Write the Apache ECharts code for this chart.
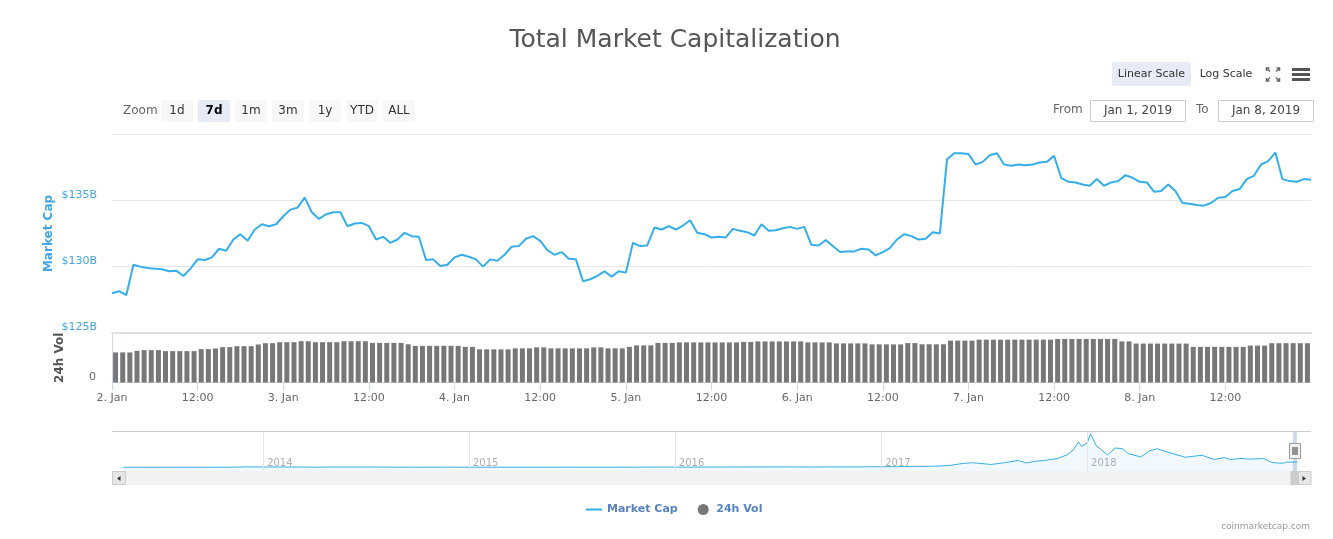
<!DOCTYPE html>
<html><head><meta charset="utf-8">
<script src="https://cdn.jsdelivr.net/npm/echarts@6/dist/echarts.min.js"></script>
<style>html,body{margin:0;padding:0;background:#fff}#c{width:1333px;height:539px}</style>
</head><body><div id="c"></div>
<script>
// ---- data (hourly from 2. Jan 2019 00:00) ----
const dayLabels = ['2. Jan','3. Jan','4. Jan','5. Jan','6. Jan','7. Jan','8. Jan','9. Jan'];
const noonLabel = '12:00';
// Total market cap, $B, hourly
const marketCap = [
128.0,128.15,127.85,130.15,130.0,129.9,129.85,129.8,129.65,129.7,
129.3,129.85,130.55,130.5,130.7,131.35,131.2,132.05,132.45,131.95,
132.8,133.2,133.05,133.2,133.8,134.3,134.45,135.2,134.1,133.6,
133.95,134.1,134.1,133.05,133.25,133.3,133.05,132.05,132.25,131.8,
132.05,132.55,132.3,132.25,130.5,130.55,130.05,130.15,130.7,130.9,
130.75,130.55,130.0,130.55,130.45,130.9,131.5,131.55,132.1,132.3,
131.95,131.25,130.9,131.1,130.6,130.55,128.9,129.05,129.3,129.65,
129.25,129.65,129.55,131.8,131.55,131.6,132.95,132.8,133.05,132.8,
133.1,133.5,132.55,132.45,132.2,132.25,132.2,132.85,132.7,132.6,
132.35,133.2,132.7,132.75,132.9,133.0,132.85,133.0,131.65,131.6,
132.0,131.55,131.1,131.15,131.15,131.35,131.3,130.85,131.1,131.4,
132.05,132.45,132.3,132.05,132.1,132.6,132.5,138.1,138.55,138.55,
138.5,137.7,137.9,138.4,138.55,137.7,137.6,137.7,137.65,137.7,
137.85,137.9,138.35,136.7,136.4,136.35,136.2,136.1,136.6,136.1,
136.35,136.45,136.9,136.7,136.4,136.35,135.65,135.7,136.2,135.7,
134.8,134.75,134.65,134.6,134.8,135.2,135.25,135.7,135.85,136.6,
136.85,137.7,137.95,138.6,136.6,136.45,136.4,136.6,136.55
];
// 24h volume, $B, hourly
const volume = [
15.2,15.2,15.2,16.0,16.35,16.35,16.35,15.85,15.85,15.85,
15.85,15.85,16.85,16.85,17.2,17.85,17.85,18.35,18.35,18.35,
19.2,19.85,19.85,20.35,20.35,20.35,20.85,20.85,20.35,20.35,
20.35,20.35,20.85,20.85,20.85,20.85,20.0,20.0,20.0,20.0,
20.0,19.3,18.5,18.5,18.5,18.5,18.5,18.5,18.5,18.0,
18.0,16.75,16.75,16.75,16.75,16.75,17.25,17.25,17.25,17.75,
17.75,17.25,17.25,17.25,17.25,17.25,17.25,17.75,17.75,17.25,
17.25,17.25,18.0,18.75,18.75,18.75,20.0,20.0,20.0,20.25,
20.25,20.25,20.25,20.25,20.25,20.25,20.25,20.25,20.5,20.5,
20.75,20.75,20.75,20.75,20.75,20.75,20.75,20.25,20.25,20.25,
20.25,19.75,19.75,19.75,19.75,19.75,19.25,19.25,19.25,19.25,
19.25,19.9,19.9,19.3,19.3,19.3,19.3,21.15,21.15,21.15,
21.15,21.65,21.65,21.65,21.65,21.65,21.65,21.65,21.65,21.65,
21.65,21.65,22.0,22.0,22.0,22.0,22.0,22.0,22.0,22.0,
22.0,20.75,20.75,19.65,19.65,19.65,19.65,19.65,19.65,19.65,
19.65,18.0,18.0,18.0,18.0,18.0,18.0,18.0,18.0,18.65,
18.65,18.65,19.85,19.85,19.85,19.85,19.85,19.85
];
// Navigator: total market cap history, $B
const navDates = ['2013-04-28','2013-07-01','2013-10-01','2013-11-15','2013-12-04','2014-01-01','2014-02-15','2014-04-01','2014-06-01','2014-08-01','2014-10-01','2014-12-01','2015-02-01','2015-05-01','2015-07-01','2015-09-01','2015-11-05','2016-01-01','2016-03-01','2016-06-17','2016-09-01','2016-12-01','2017-01-05','2017-02-01','2017-03-01','2017-04-01','2017-05-01','2017-05-25','2017-06-12','2017-07-15','2017-08-10','2017-09-01','2017-09-15','2017-10-01','2017-10-20','2017-11-10','2017-11-28','2017-12-08','2017-12-17','2017-12-22','2018-01-01','2018-01-07','2018-01-17','2018-02-06','2018-02-20','2018-03-05','2018-03-15','2018-04-06','2018-04-22','2018-05-05','2018-05-28','2018-06-24','2018-07-24','2018-08-14','2018-09-01','2018-09-12','2018-10-01','2018-10-15','2018-11-10','2018-11-25','2018-12-14','2018-12-20','2019-01-01','2019-01-09'];
const navValues = [1.5,1.0,1.7,6,14,10,8,6,8,7,5,4.5,3.5,3.5,4.5,3.8,6.5,7,7.5,12,10,12.5,17,17,24,27,45,95,115,72,120,170,110,150,175,220,320,440,630,520,600,830,540,310,480,460,340,260,410,460,360,250,300,195,240,195,220,205,215,120,100,130,130,135];
const navYears = ['2014','2015','2016','2017','2018'];
const selectedRange = ['2019-01-01','2019-01-08'];
const zoomButtons = ['1d','7d','1m','3m','1y','YTD','ALL'];
const selectedZoom = '7d';

const F = '"DejaVu Sans", sans-serif';
const LINE = '#36aeea';
const chart = echarts.init(document.getElementById('c'));

function txt(x, y, text, opt) {
  return {type:'text', x:x, y:y, z:100, silent:true,
    style:Object.assign({text:text, fontFamily:F, fontSize:12, fill:'#333', align:'left', verticalAlign:'middle'}, opt||{})};
}
function box(x, y, w, h, fill, stroke, r) {
  return {type:'rect', z:100, silent:true, shape:{x:x, y:y, width:w, height:h, r:r||0},
    style:{fill:fill, stroke:stroke||null, lineWidth:1}};
}
function pl(points, color, w) {
  return {type:'polyline', z:100, silent:true, shape:{points:points}, style:{stroke:color, lineWidth:w||1, fill:null}};
}

const g = [];
// zoom buttons
g.push(txt(123, 111, 'Zoom', {fill:'#666'}));
zoomButtons.forEach(function (b, i) {
  const x = 161 + i * 37;
  const sel = b === selectedZoom;
  g.push(box(x, 100, 32, 22, sel ? '#e6ebf5' : '#f7f7f7', null, 2));
  g.push(txt(x + 16, 111, b, {align:'center', fontWeight: sel ? 'bold' : 'normal', fill: sel ? '#000' : '#333'}));
});
// scale buttons
g.push(box(1112, 62, 79, 24, '#e6ebf5', null, 2));
g.push(txt(1151.5, 74, 'Linear Scale', {align:'center', fontSize:11}));
g.push(txt(1226, 74, 'Log Scale', {align:'center', fontSize:11}));
// fullscreen icon
g.push(pl([[1266.5,71],[1266.5,68],[1269.5,68]], '#666', 1.5));
g.push(pl([[1266.5,68],[1270,71.5]], '#666', 1.5));
g.push(pl([[1276.5,68],[1279.5,68],[1279.5,71]], '#666', 1.5));
g.push(pl([[1279.5,68],[1276,71.5]], '#666', 1.5));
g.push(pl([[1266.5,78],[1266.5,81],[1269.5,81]], '#666', 1.5));
g.push(pl([[1266.5,81],[1270,77.5]], '#666', 1.5));
g.push(pl([[1276.5,81],[1279.5,81],[1279.5,78]], '#666', 1.5));
g.push(pl([[1279.5,81],[1276,77.5]], '#666', 1.5));
// hamburger
g.push(box(1292, 68, 18, 3, '#555'));
g.push(box(1292, 73, 18, 3, '#555'));
g.push(box(1292, 78, 18, 3, '#555'));
// date inputs
g.push(txt(1053, 110, 'From', {fill:'#666'}));
g.push(box(1090.5, 100.5, 95, 21, '#fff', '#ccc'));
g.push(txt(1138, 111, 'Jan 1, 2019', {align:'center', fill:'#444'}));
g.push(txt(1196, 110, 'To', {fill:'#666'}));
g.push(box(1218.5, 100.5, 95, 21, '#fff', '#ccc'));
g.push(txt(1266, 111, 'Jan 8, 2019', {align:'center', fill:'#444'}));
// navigator frame + scrollbar
g.push(pl([[112,431.5],[1311,431.5]], '#cccccc', 1));
g.push(box(112, 471, 1199, 14, '#f2f2f2'));
g.push(box(112.5, 471.5, 13, 13, '#e6e6e6', '#cccccc'));
g.push({type:'polygon', z:100, silent:true, shape:{points:[[120.5,476],[120.5,481],[117,478.5]]}, style:{fill:'#333'}});
g.push(box(1290.5, 471, 8, 14, '#cccccc'));
g.push(box(1298.5, 471.5, 12.5, 13, '#e6e6e6', '#cccccc'));
g.push({type:'polygon', z:100, silent:true, shape:{points:[[1302.5,476],[1302.5,481],[1306,478.5]]}, style:{fill:'#333'}});
// navigator handle
g.push(box(1289.5, 443.5, 11, 15, '#f2f2f2', '#999'));
g.push(pl([[1293,447],[1293,455]], '#333', 1));
g.push(pl([[1295,447],[1295,455]], '#333', 1));
g.push(pl([[1297,447],[1297,455]], '#333', 1));
// credits
g.push(txt(1310, 527, 'coinmarketcap.com', {align:'right', fontSize:9, fill:'#999'}));

const option = {
  animation: false,
  textStyle: {fontFamily: F},
  title: {text:'Total Market Capitalization', left:670, top:23, textAlign:'center',
    textStyle:{fontFamily:F, fontSize:25, fontWeight:'normal', color:'#555'}},
  legend: {left:586, top:504, padding:0, itemWidth:16, itemHeight:11, itemGap:20,
    textStyle:{fontFamily:F, fontSize:11, fontWeight:'bold', color:'#5883c0'},
    data:[{name:'Market Cap', icon:'path://M0,0 L16,0 L16,2 L0,2 Z'}, {name:'24h Vol', icon:'circle'}]},
  grid: [
    {left:112, right:22, top:134, height:199},
    {left:112, right:22, top:333, bottom:156.5},
    {left:112, right:22, top:431, height:40}
  ],
  xAxis: [
    {gridIndex:0, type:'value', min:0, max:168, interval:12,
      axisLine:{show:true, lineStyle:{color:'#e0e0e0', width:2}}, axisTick:{show:false},
      axisLabel:{show:false}, splitLine:{show:false}},
    {gridIndex:1, type:'value', min:0, max:168, interval:12,
      axisLine:{show:true, lineStyle:{color:'#ccd6eb'}},
      axisTick:{show:true, length:8, lineStyle:{color:'#ccd6eb'}},
      axisLabel:{show:true, color:'#666', fontSize:11, margin:10, showMaxLabel:false,
        formatter:function (v) { return v % 24 === 0 ? dayLabels[v / 24] : noonLabel; }},
      splitLine:{show:false}},
    {gridIndex:2, type:'time', min:'2013-04-08', max:'2019-02-02', show:false}
  ],
  yAxis: [
    {gridIndex:0, type:'value', min:125, max:140, interval:5,
      name:'Market Cap', nameLocation:'middle', nameGap:57, nameRotate:90, nameMoveOverlap:false,
      nameTextStyle:{color:'#44a6e2', fontWeight:'bold', fontSize:12},
      axisLine:{show:false}, axisTick:{show:false},
      axisLabel:{color:'#44a6e2', fontSize:11, margin:15, verticalAlign:'bottom',
        formatter:function (v) { return v >= 140 ? '' : '$' + v + 'B'; }},
      splitLine:{lineStyle:{color:'#e6e6e6'}}},
    {gridIndex:1, type:'value', min:0, max:25, interval:25, offset:3,
      name:'24h Vol', nameLocation:'middle', nameGap:43, nameRotate:90, nameMoveOverlap:false,
      nameTextStyle:{color:'#555', fontWeight:'bold', fontSize:12},
      axisLine:{show:true, lineStyle:{color:'#d5d9e3'}}, axisTick:{show:false},
      axisLabel:{color:'#666', fontSize:11, margin:13, verticalAlign:'bottom',
        formatter:function (v) { return v === 0 ? '0' : ''; }},
      splitLine:{show:false}},
    {gridIndex:2, type:'value', min:-90, max:900, show:false}
  ],
  series: [
    {name:'Market Cap', type:'line', xAxisIndex:0, yAxisIndex:0, symbol:'none', z:5,
      lineStyle:{color:LINE, width:2}, itemStyle:{color:LINE},
      data: marketCap.map(function (v, i) { return [i, v]; })},
    {name:'24h Vol', type:'bar', xAxisIndex:1, yAxisIndex:1, barWidth:5,
      itemStyle:{color:'#777'},
      data: volume.map(function (v, i) { return [i + 0.5, v]; })},
    {name:'nav', type:'line', xAxisIndex:2, yAxisIndex:2, symbol:'none', silent:true,
      lineStyle:{color:LINE, width:1}, areaStyle:{color:'rgba(54,174,234,0.1)', origin:'start'},
      data: navDates.map(function (d, i) { return [d, navValues[i]]; }),
      markLine:{silent:true, symbol:'none', label:{show:false},
        lineStyle:{color:'#e6e6e6', width:1, type:'solid'},
        data: navYears.map(function (y) { return {xAxis: y + '-01-01'}; })},
      markArea:{silent:true, itemStyle:{color:'rgba(102,133,194,0.3)'},
        data:[[{xAxis:selectedRange[0]}, {xAxis:selectedRange[1]}]]}},
    {name:'navYears', type:'scatter', xAxisIndex:2, yAxisIndex:2, symbolSize:0, silent:true,
      label:{show:true, position:'right', distance:4, color:'#999', fontSize:10,
        formatter:function (p) { return navYears[p.dataIndex]; }},
      data: navYears.map(function (y) { return [y + '-01-01', 100]; })}
  ],
  graphic: g
};
chart.setOption(option);
</script>
</body></html>
